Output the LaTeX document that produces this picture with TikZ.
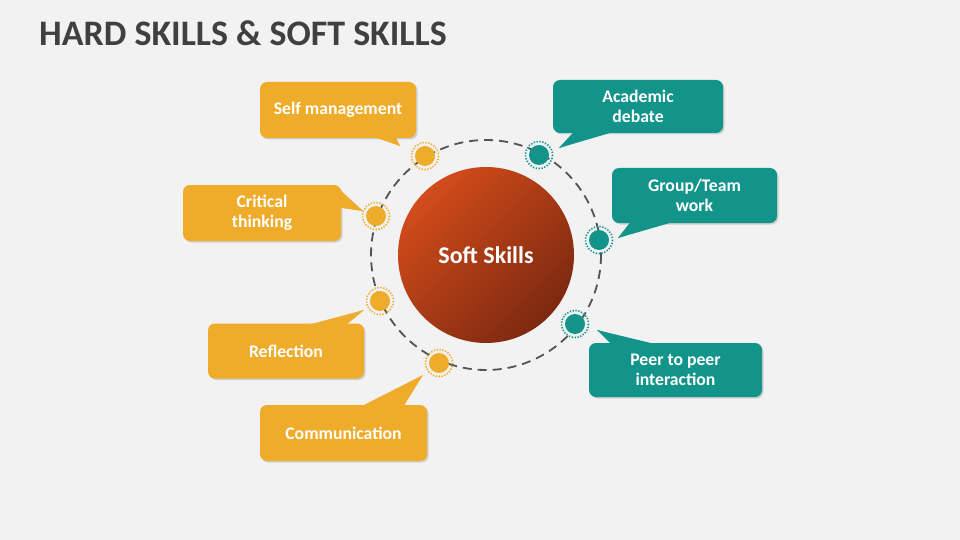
\documentclass[tikz,border=0pt]{standalone}
\usepackage{fontspec}
\setmainfont{Carlito}
\usetikzlibrary{shadows}
\definecolor{bg}{HTML}{F2F2F2}
\definecolor{orng}{HTML}{EFAB2A}
\definecolor{tealc}{HTML}{13948A}
\definecolor{titlec}{HTML}{404040}
\definecolor{redA}{HTML}{D24C1B}
\definecolor{redB}{HTML}{7C2810}
\begin{document}
\begin{tikzpicture}[x=1pt,y=-1pt,
  callout/.style={rounded corners=7pt, text=white, inner sep=0pt, align=center,
    font=\bfseries\fontsize{17.7}{20.5}\selectfont,
    drop shadow={opacity=0.3, shadow xshift=1.5pt, shadow yshift=-1.5pt}},
  obox/.style={callout, fill=orng},
  tbox/.style={callout, fill=tealc},
  otail/.style={fill=orng},
  ttail/.style={fill=tealc},
  odot/.style={circle, fill=orng, minimum size=20pt, inner sep=0pt},
  tdot/.style={circle, fill=tealc, minimum size=20pt, inner sep=0pt},
  oring/.style={draw=orng, line width=1.6pt, dash pattern=on 1.3pt off 1.6pt},
  tring/.style={draw=tealc, line width=1.6pt, dash pattern=on 1.3pt off 1.6pt},
  orbit/.style={draw=titlec!90, line width=1.8pt, dash pattern=on 9pt off 6pt}
]
\fill[bg] (0,0) rectangle (960,540);
\useasboundingbox (0,0) rectangle (960,540);

% title
\node[anchor=base west, inner sep=0pt, text=titlec, font=\bfseries\fontsize{35.9}{40}\selectfont] (title) at (39,46) {HARD SKILLS \& SOFT SKILLS};

% orbit
\coordinate (ctr) at (486,255);
\draw[orbit] (ctr) circle[radius=115];

% central circle
\shade[left color=redA, right color=redB, shading angle=45] (ctr) circle[radius=88];
\node[circle, minimum size=176pt, inner sep=0pt, text=white, font=\bfseries\fontsize{24}{28}\selectfont] (core) at (ctr) {Soft Skills};

% dots
\node[odot] (dsm) at (425,156) {};
\node[odot] (dct) at (376,216) {};
\node[odot] (drf) at (380,301) {};
\node[odot] (dcm) at (439,363) {};
\node[tdot] (dad) at (539,155) {};
\node[tdot] (dgt) at (599,240) {};
\node[tdot] (dpp) at (575,324) {};
\foreach \d in {dsm,dct,drf,dcm} \draw[oring] (\d) circle[radius=13.5];
\foreach \d in {dad,dgt,dpp} \draw[tring] (\d) circle[radius=13.5];

% tail tips
\coordinate (tsm) at (400,146);
\coordinate (tct) at (363,211);
\coordinate (trf) at (364,310);
\coordinate (tcm) at (423,375);
\coordinate (tad) at (559,148);
\coordinate (tgt) at (618,238);
\coordinate (tpp) at (597,330);

% tails (drawn under boxes)
\fill[otail] (365,130) -- (tsm) -- (392,130) -- cycle;
\fill[otail] (335,187) -- (tct) -- (335,207) -- cycle;
\fill[otail] (300,330) -- (trf) -- (340,330) -- cycle;
\fill[otail] (358,412) -- (tcm) -- (400,412) -- cycle;
\fill[ttail] (579,126) -- (tad) -- (620,126) -- cycle;
\fill[ttail] (635,216) -- (tgt) -- (680,216) -- cycle;
\fill[ttail] (617,350) -- (tpp) -- (663,350) -- cycle;

% boxes
\node[obox, minimum width=156pt, minimum height=56pt] (sm) at (338,110) {Self management};
\node[obox, minimum width=158pt, minimum height=56pt] (ct) at (262,213) {Critical\\thinking};
\node[obox, minimum width=156pt, minimum height=55pt] (rf) at (286,351) {Reflection};
\node[obox, minimum width=167pt, minimum height=56pt] (cm) at (343.5,433) {Communication};
\node[tbox, minimum width=170pt, minimum height=53pt] (ad) at (638,106.5) {Academic\\debate};
\node[tbox, minimum width=165pt, minimum height=55pt] (gt) at (694.5,195.5) {Group/Team\\work};
\node[tbox, minimum width=173pt, minimum height=54pt] (pp) at (675.5,370) {Peer to peer\\interaction};

% re-fill tails over box shadows
\fill[otail] (365,134) -- (tsm) -- (392,134) -- cycle;
\fill[otail] (338,188) -- (tct) -- (338,207) -- cycle;
\fill[otail] (300,327) -- (trf) -- (340,327) -- cycle;
\fill[otail] (358,408) -- (tcm) -- (400,408) -- cycle;
\fill[ttail] (579,130) -- (tad) -- (620,130) -- cycle;
\fill[ttail] (635,220) -- (tgt) -- (680,220) -- cycle;
\fill[ttail] (617,346) -- (tpp) -- (663,346) -- cycle;
\end{tikzpicture}
\end{document}
